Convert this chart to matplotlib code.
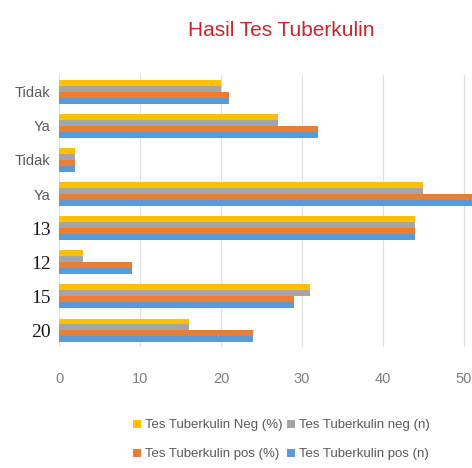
import matplotlib
matplotlib.use('Agg')
import matplotlib.pyplot as plt
import numpy as np

# categories, bottom to top
categories = ['20', '15', '12', '13', 'Ya', 'Tidak', 'Ya', 'Tidak']
pos_n = [24, 29, 9, 44, 51, 2, 32, 21]
pos_pct = [24, 29, 9, 44, 51, 2, 32, 21]
neg_n = [16, 31, 3, 44, 45, 2, 27, 20]
neg_pct = [16, 31, 3, 44, 45, 2, 27, 20]

series = [
    ('Tes Tuberkulin pos (n)', pos_n, '#5B9BD5'),
    ('Tes Tuberkulin pos (%)', pos_pct, '#ED7D31'),
    ('Tes Tuberkulin neg (n)', neg_n, '#A5A5A5'),
    ('Tes Tuberkulin Neg (%)', neg_pct, '#FFC000'),
]

narrow = ['Liberation Sans', 'DejaVu Sans']

fig = plt.figure(figsize=(4.72, 4.68), dpi=100)
ax = fig.add_axes([0.125, 0.258, 0.875, 0.582])

ind = np.arange(len(categories))
h = 0.172  # bar height
bars = {}
for i, (name, vals, col) in enumerate(series):
    bars[name] = ax.barh(ind + (i - 1.5) * h, vals, h, color=col, label=name)

ax.set_xlim(0, 51)
ax.set_ylim(-0.5, len(categories) - 0.5)
ax.set_xticks([0, 10, 20, 30, 40, 50])
ax.set_yticks(ind)
ax.set_yticklabels(categories)
for lbl in ax.get_yticklabels():
    if lbl.get_text().isdigit():
        lbl.set_family('Liberation Serif')
        lbl.set_fontsize(14)
        lbl.set_color('#1a1a1a')
    else:
        lbl.set_family(narrow)
        lbl.set_fontsize(10.5)
        lbl.set_color('#595959')
for lbl in ax.get_xticklabels():
    lbl.set_family(narrow)
    lbl.set_fontsize(10.5)
    lbl.set_color('#7f7f7f')

ax.tick_params(length=0)
ax.tick_params(axis='x', pad=18)
ax.tick_params(axis='y', pad=6)
for s in ax.spines.values():
    s.set_visible(False)
ax.grid(axis='x', color='#e0e0e0', linewidth=0.9)
ax.set_axisbelow(True)

fig.text(0.595, 0.935, 'Hasil Tes Tuberkulin', ha='center', va='center',
         fontsize=15, color='#C8262F', family=narrow)

order = ['Tes Tuberkulin Neg (%)', 'Tes Tuberkulin pos (%)',
         'Tes Tuberkulin neg (n)', 'Tes Tuberkulin pos (n)']
leg = fig.legend([bars[k] for k in order], order, ncol=2, loc='center',
                 bbox_to_anchor=(0.596, 0.06), frameon=False,
                 prop={'family': narrow, 'size': 9.5},
                 handlelength=0.6, handleheight=0.6, handletextpad=0.3,
                 columnspacing=0.4, labelspacing=1.3)
for t in leg.get_texts():
    t.set_color('#595959')

fig.savefig('out.png', dpi=100)
